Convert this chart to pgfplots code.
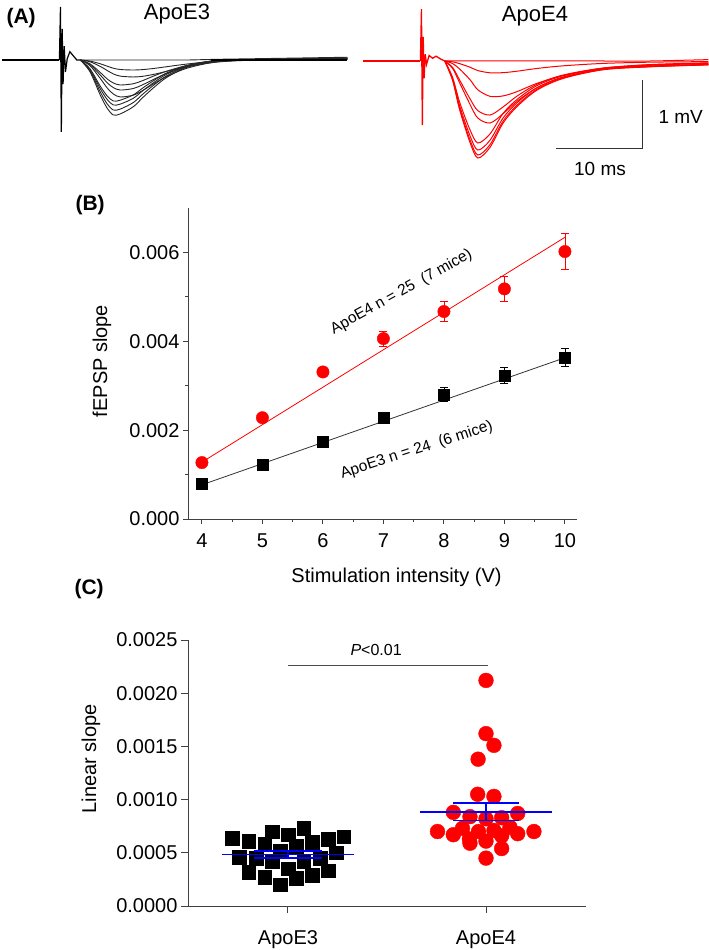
\documentclass[border=0pt]{standalone}
\usepackage{pgfplots}
\pgfplotsset{compat=1.18}
\usepackage{pgfplotstable}
\usepackage{fontspec}
\setmainfont{Liberation Sans}
\newcommand{\fs}[1]{\fontsize{#1}{#1}\selectfont}
\pgfplotsset{/pgf/number format/assume math mode=true}

% ApoE3 fEPSP traces (ms, mV)
\pgfplotstableread{
t    e0    e1     e2     e3     e4     e5     e6     e7     e8     e9
9.0  0     0      0      0      0      0      0      0      0      0
10.1 0    -0.015 -0.025 -0.054 -0.065 -0.080 -0.125 -0.137 -0.152 -0.167
11.3 0    -0.055 -0.093 -0.181 -0.218 -0.268 -0.380 -0.417 -0.464 -0.510
12.1 0    -0.090 -0.153 -0.275 -0.331 -0.407 -0.523 -0.574 -0.638 -0.701
12.8 0    -0.119 -0.202 -0.333 -0.400 -0.493 -0.594 -0.652 -0.725 -0.797
13.6 0    -0.138 -0.234 -0.362 -0.435 -0.536 -0.582 -0.639 -0.711 -0.781
15.1 0    -0.145 -0.246 -0.344 -0.413 -0.509 -0.505 -0.554 -0.616 -0.677
16.2 0    -0.139 -0.236 -0.297 -0.357 -0.440 -0.404 -0.443 -0.493 -0.542
17.6 0    -0.120 -0.204 -0.224 -0.270 -0.332 -0.285 -0.313 -0.348 -0.383
19.0 0    -0.096 -0.162 -0.159 -0.191 -0.236 -0.184 -0.202 -0.225 -0.247
21.3 0    -0.058 -0.098 -0.080 -0.096 -0.118 -0.077 -0.085 -0.094 -0.104
24.7 0.01 -0.017 -0.030 -0.018 -0.022 -0.027 -0.006 -0.007 -0.007 -0.008
29.7 0.02  0.0    0.0    0.004  0.004  0.005  0.006  0.007  0.007  0.008
39.7 0.04  0.01   0.012  0.015  0.017  0.021  0.024  0.026  0.029  0.032
}\traceEthree

% ApoE4 fEPSP traces (ms, mV)
\pgfplotstableread{
t    f0    f1     f2     f3     f4     f5     f6     f7     f8
9.4  0     0      0      0      0      0      0      0      0
10.3 0    -0.012 -0.037 -0.094 -0.108 -0.238 -0.258 -0.272 -0.281
11.1 0    -0.038 -0.115 -0.274 -0.315 -0.594 -0.645 -0.681 -0.703
12.3 0    -0.090 -0.271 -0.548 -0.629 -0.998 -1.084 -1.144 -1.181
13.2 0    -0.139 -0.418 -0.720 -0.827 -1.188 -1.290 -1.362 -1.406
14.6 0    -0.171 -0.512 -0.783 -0.899 -1.057 -1.148 -1.212 -1.251
16.1 0    -0.169 -0.506 -0.666 -0.764 -0.760 -0.826 -0.872 -0.900
17.7 0    -0.148 -0.444 -0.509 -0.584 -0.558 -0.606 -0.640 -0.661
20.0 0    -0.108 -0.324 -0.337 -0.387 -0.356 -0.387 -0.409 -0.422
23.0 0    -0.070 -0.209 -0.204 -0.234 -0.214 -0.232 -0.245 -0.253
27.6 0    -0.035 -0.104 -0.102 -0.117 -0.107 -0.116 -0.123 -0.127
33.0 0    -0.017 -0.052 -0.055 -0.063 -0.071 -0.077 -0.082 -0.084
39.7 0.02 -0.009 -0.026 -0.031 -0.036 -0.048 -0.052 -0.054 -0.056
}\traceEfour

% Panel C individual slopes
\pgfplotstableread{
x      y
-0.283 0.00064
-0.198 0.00061
-0.081 0.00070
 0.000 0.00067
 0.079 0.00073
 0.202 0.00063
 0.281 0.00065
-0.118 0.00058
 0.121 0.00060
 0.040 0.00056
-0.038 0.00052
-0.245 0.00046
-0.162 0.00045
-0.081 0.00042
 0.079 0.00042
 0.164 0.00045
 0.242 0.00050
 0.000 0.00035
-0.198 0.00032
-0.118 0.00027
 0.040 0.00026
 0.121 0.00029
 0.202 0.00033
-0.038 0.00020
}\slopeEthree

\pgfplotstableread{
x     y
0.958 0.00105
1.040 0.00103
0.835 0.00088
0.919 0.00084
1.000 0.00082
1.079 0.00083
1.160 0.00087
0.755 0.00070
0.835 0.00067
0.881 0.00073
0.962 0.00070
1.040 0.00071
1.121 0.00074
1.160 0.00068
1.242 0.00070
0.916 0.00063
0.919 0.00059
1.000 0.00061
1.079 0.00066
1.079 0.00054
1.000 0.00045
1.000 0.00212
1.000 0.00162
1.040 0.00151
0.960 0.00138
}\slopeEfour

\begin{document}
\begin{tikzpicture}
\path[use as bounding box] (0,0) rectangle (709pt,-950pt);

% ---------------- Panel A: ApoE3 ----------------
\begin{axis}[at={(2pt,-170.4pt)}, anchor=south west, x=8.7pt, y=69pt,
  xmin=0, xmax=40, ymin=-1.6, ymax=0.9, hide axis, clip=false]
  \addplot[black, line width=2.2pt] coordinates {(0,0) (6.6,0)};
  \addplot[black, line width=1.2pt] coordinates {(6.6,0) (6.72,0.77) (6.82,-1.04) (6.92,0.45) (7.02,-0.35) (7.15,0.2) (7.3,-0.17) (7.5,0.02) (7.8,0.12) (8.2,0.06) (8.6,0.0) (9.0,0)};
  \pgfplotsinvokeforeach{e0,e1,e2,e3,e4,e5,e6,e7,e8,e9}{
    \addplot[black!85, line width=0.9pt, smooth] table[x=t, y=#1] {\traceEthree};
  }
  \addplot[black, line width=2pt] coordinates {(24,0) (39.7,0)};
\end{axis}

% ---------------- Panel A: ApoE4 ----------------
\begin{axis}[at={(363pt,-171.4pt)}, anchor=south west, x=8.7pt, y=69pt,
  xmin=0, xmax=40, ymin=-1.6, ymax=0.9, hide axis, clip=false]
  \addplot[red, line width=2.2pt] coordinates {(0,0) (6.6,0)};
  \addplot[red, line width=1.3pt] coordinates {(6.6,0) (6.72,0.75) (6.82,-0.93) (6.92,0.35) (7.02,-0.25) (7.15,0.1) (7.3,-0.05) (7.6,0.08) (8.0,0.04) (8.4,0.07) (8.9,0.03) (9.4,0)};
  \pgfplotsinvokeforeach{f0,f1,f2,f3,f4,f5,f6,f7,f8}{
    \addplot[red, line width=1pt, smooth] table[x=t, y=#1] {\traceEfour};
  }
  % scale bar: 10 ms, 1 mV
  \addplot[black!80, line width=1pt] coordinates {(22.18,-1.275) (32.18,-1.275) (32.18,-0.275)};
\end{axis}

\node[font=\fs{21}\bfseries, anchor=base west] at (3pt,-24pt) {(A)};
\node[font=\fs{22}, anchor=base] at (177pt,-20pt) {ApoE3};
\node[font=\fs{22}, anchor=base] at (535pt,-21.7pt) {ApoE4};
\node[font=\fs{19}, anchor=base west] at (655pt,-123pt) {1 mV};
\node[font=\fs{19}, anchor=base] at (600pt,-175pt) {10 ms};

% ---------------- Panel B ----------------
\node[font=\fs{21}\bfseries, anchor=base west] at (72pt,-210pt) {(B)};
\begin{axis}[at={(188pt,-519pt)}, anchor=south west, scale only axis,
  width=389pt, height=311pt,
  xmin=3.77, xmax=10.2, ymin=0, ymax=0.007,
  axis x line*=bottom, axis y line*=left,
  axis line style={black!75, line width=1pt},
  tick align=outside, tick style={black!75, line width=1pt},
  major tick length=5pt, minor tick length=3pt,
  xtick={4,5,6,7,8,9,10}, minor x tick num=1,
  ytick={0,0.002,0.004,0.006}, minor ytick={0.001,0.003,0.005},
  scaled y ticks=false,
  yticklabel style={/pgf/number format/.cd, fixed, fixed zerofill, precision=3},
  ticklabel style={font=\fs{20}},
  xticklabel style={yshift=-6pt},
  clip=false]
  \addplot[black!80, line width=0.8pt] coordinates {(4,0.00077) (10,0.00363)};
  \addplot[red, line width=0.8pt] coordinates {(4,0.00128) (10,0.00634)};
  \addplot[only marks, mark=square*, mark size=5.7pt, black,
    error bars/.cd, y dir=both, y explicit,
    error bar style={line width=0.8pt, black},
    error mark options={rotate=90, mark size=4pt, line width=0.8pt, black}]
    coordinates {(4,0.00079) +- (0,0.00004) (5,0.00122) +- (0,0.00005) (6,0.00174) +- (0,0.00006)
                 (7,0.00228) +- (0,0.00011) (8,0.00280) +- (0,0.00016) (9,0.00323) +- (0,0.00018)
                 (10,0.00363) +- (0,0.00020)};
  \addplot[only marks, mark=*, mark size=6.2pt, red,
    error bars/.cd, y dir=both, y explicit,
    error bar style={line width=0.8pt, red},
    error mark options={rotate=90, mark size=4pt, line width=0.8pt, red}]
    coordinates {(4,0.00127) +- (0,0.00006) (5,0.00228) +- (0,0.00007) (6,0.00331) +- (0,0.00010)
                 (7,0.00406) +- (0,0.00017) (8,0.00467) +- (0,0.00022) (9,0.00518) +- (0,0.00028)
                 (10,0.00602) +- (0,0.00040)};
  \node[rotate=29, font=\fs{15.5}] at (axis cs:7.30,0.00511) {ApoE4 n = 25\ \ (7 mice)};
  \node[rotate=18, font=\fs{15.5}] at (axis cs:7.55,0.00155) {ApoE3 n = 24\ \ (6 mice)};
\end{axis}
\node[font=\fs{20}, anchor=base] at (396.5pt,-582pt) {Stimulation intensity (V)};
\node[font=\fs{20}, anchor=base, rotate=90] at (107pt,-361pt) {fEPSP slope};

% ---------------- Panel C ----------------
\node[font=\fs{21}\bfseries, anchor=base west] at (71pt,-594pt) {(C)};
\begin{axis}[at={(188pt,-906pt)}, anchor=south west, scale only axis,
  width=398pt, height=266pt,
  xmin=-0.505, xmax=1.505, ymin=0, ymax=0.0025,
  axis x line*=bottom, axis y line*=left,
  axis line style={black!75, line width=1pt},
  tick align=outside, tick style={black!75, line width=1pt},
  major tick length=7pt,
  xtick={0,1}, xticklabels={ApoE3, ApoE4},
  ytick={0,0.0005,0.001,0.0015,0.002,0.0025},
  scaled y ticks=false,
  yticklabel style={/pgf/number format/.cd, fixed, fixed zerofill, precision=4},
  ticklabel style={font=\fs{20}},
  xticklabel style={yshift=-14pt},
  clip=false, clip marker paths=true]
  \addplot[only marks, mark=square*, mark size=6.8pt, black] table[x=x, y=y] {\slopeEthree};
  \addplot[only marks, mark=*, mark size=7.4pt, red] table[x=x, y=y] {\slopeEfour};
  % mean +- SEM
  \addplot[blue, line width=1.6pt] coordinates {(-0.333,0.000484) (0.333,0.000484)};
  \addplot[blue, line width=1.6pt] coordinates {(-0.17,0.000515) (0.17,0.000515)};
  \addplot[blue, line width=1.6pt] coordinates {(-0.17,0.000453) (0.17,0.000453)};
  \addplot[blue, line width=1.6pt] coordinates {(0,0.000453) (0,0.000515)};
  \addplot[blue, line width=1.6pt] coordinates {(0.667,0.000884) (1.333,0.000884)};
  \addplot[blue, line width=1.6pt] coordinates {(0.833,0.000966) (1.167,0.000966)};
  \addplot[blue, line width=1.6pt] coordinates {(0.833,0.000802) (1.167,0.000802)};
  \addplot[blue, line width=1.6pt] coordinates {(1,0.000802) (1,0.000966)};
  % significance bar
  \addplot[black!70, line width=1pt] coordinates {(0,0.00226) (1.01,0.00226)};
  \node[font=\fs{16}, anchor=base] at (axis cs:0.445,0.00235) {\itshape P\upshape<0.01};
\end{axis}
\node[font=\fs{20}, anchor=base, rotate=90] at (96pt,-759pt) {Linear slope};

\end{tikzpicture}
\end{document}
